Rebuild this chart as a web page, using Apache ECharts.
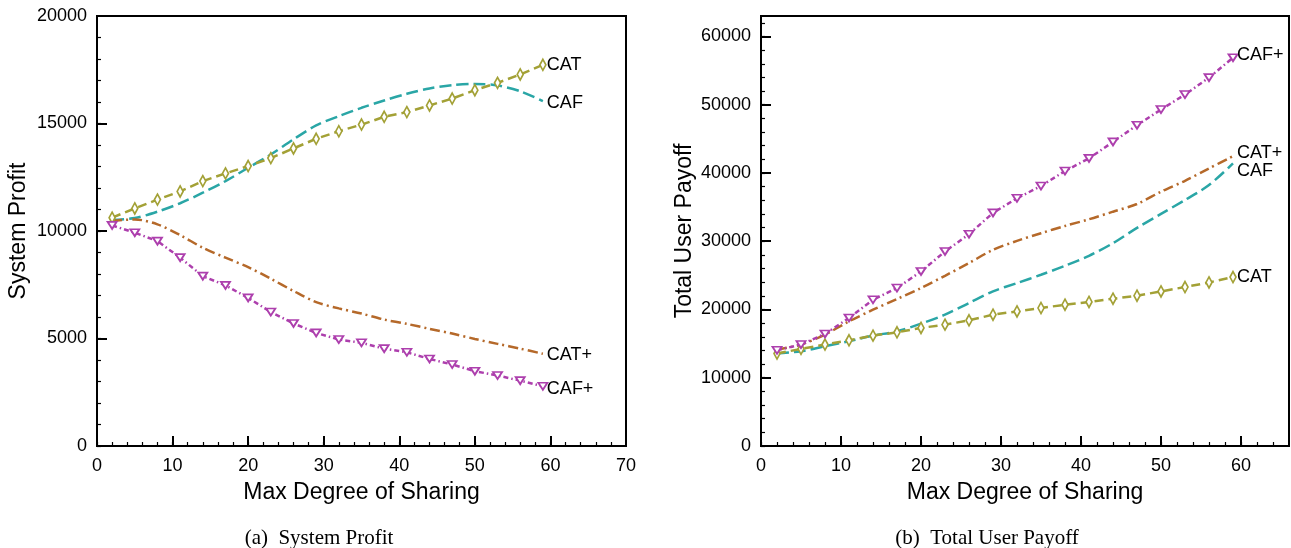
<!DOCTYPE html>
<html><head><meta charset="utf-8">
<script src="https://cdn.jsdelivr.net/npm/echarts@6/dist/echarts.min.js"></script>
<style>html,body{margin:0;padding:0;background:#fff}#c{width:1291px;height:548px}</style>
</head><body><div id="c"></div>
<script>
// ---- data ----
const xVals = [2,5,8,11,14,17,20,23,26,29,32,35,38,41,44,47,50,53,56,59];

const profitCAT     = [10620,11050,11460,11840,12320,12680,13020,13390,13840,14290,14640,14950,15310,15530,15840,16160,16550,16890,17280,17730];
const profitCAF     = [10510,10600,10900,11290,11780,12320,12940,13560,14260,14910,15340,15730,16070,16380,16630,16780,16840,16770,16500,16040];
const profitCATplus = [10470,10540,10310,9810,9220,8760,8320,7780,7210,6690,6400,6160,5880,5680,5450,5230,4980,4750,4530,4290];
const profitCAFplus = [10260,9920,9530,8760,7900,7470,6890,6230,5700,5260,4950,4800,4530,4360,4050,3790,3480,3280,3040,2780];

const payoffCAT     = [13540,14230,14860,15490,16170,16660,17300,17780,18410,19240,19720,20220,20700,21100,21580,22020,22650,23290,23960,24750];
const payoffCAF     = [13540,13880,14610,15340,16170,16800,17930,19240,20950,22650,23870,25090,26400,27860,29720,31950,34000,36040,38230,41400];
const payoffCATplus = [14130,14860,16320,18260,19970,21540,23140,24940,26800,28740,30050,31180,32240,33220,34330,35460,37260,38860,40670,42470];
const payoffCAFplus = [14030,14860,16420,18760,21430,23140,25570,28500,31030,34150,36290,38090,40280,42140,44560,47000,49290,51490,53970,56890];

// ---- ticks ----
const leftXTicks  = [0,10,20,30,40,50,60,70];
const leftYTicks  = [0,5000,10000,15000,20000];
const rightXTicks = [0,10,20,30,40,50,60];
const rightYTicks = [0,10000,20000,30000,40000,50000,60000];
const leftXMax = 70, leftYMax = 20000, rightXMax = 66, rightYMax = 63000;
const leftXMinorStep = 2, leftYMinorStep = 1000, rightXMinorStep = 2, rightYMinorStep = 2000;

function steps(max, step){ const a=[]; for(let v=0; v<max; v+=step) a.push(v); return a; }

const FONT = 'Liberation Sans, Arial, Helvetica, sans-serif';
const C_CAT = '#a3a136', C_CAF = '#2aa6a6', C_CATP = '#b5692a', C_CAFP = '#ad3fad';

function pairs(ys){ return xVals.map((x,i)=>[x, ys[i]]); }

function majorAxis(dim, grid, max, ticks, name, nameGap){
  return {
    type:'value', gridIndex:grid, min:0, max:max,
    position: dim==='x' ? 'bottom' : 'left',
    axisLine:{show:true, onZero:false, lineStyle:{color:'#000', width:2}},
    axisTick:{show:true, inside:true, length:10, customValues:ticks, lineStyle:{color:'#000', width:2}},
    axisLabel:{show:true, customValues:ticks, margin: dim==='x'?11:10, fontSize:18, color:'#000', fontFamily:FONT,
               formatter:(v)=>String(v)},
    splitLine:{show:false},
    name:name, nameLocation:'middle', nameGap:nameGap,
    nameTextStyle:{fontSize:23, color:'#000', fontFamily:FONT}
  };
}
function minorAxis(dim, grid, max, ticks){
  return {
    type:'value', gridIndex:grid, min:0, max:max,
    position: dim==='x' ? 'bottom' : 'left',
    axisLine:{show:false},
    axisTick:{show:true, inside:true, length:4, customValues:ticks, lineStyle:{color:'#000', width:1.2}},
    axisLabel:{show:false}, splitLine:{show:false}
  };
}

function seriesSet(xi, yi, cat, caf, catp, cafp, offs){
  const lbl = (off)=>({show:true, formatter:'{a}', fontSize:18, color:'#000', fontFamily:FONT, distance:4, offset:off});
  return [
    {name:'CAT', type:'line', xAxisIndex:xi, yAxisIndex:yi, data:pairs(cat),
     symbol:'diamond', symbolSize:[6,11], showAllSymbol:true,
     itemStyle:{color:'#fff', borderColor:C_CAT, borderWidth:1.8},
     lineStyle:{color:C_CAT, width:2.5, type:[9,5]}, endLabel:lbl(offs[0]), z:4},
    {name:'CAF', type:'line', xAxisIndex:xi, yAxisIndex:yi, data:pairs(caf),
     symbol:'none', smooth:0.3,
     lineStyle:{color:C_CAF, width:2.5, type:[12,5]}, endLabel:lbl(offs[1]), z:3},
    {name:'CAT+', type:'line', xAxisIndex:xi, yAxisIndex:yi, data:pairs(catp),
     symbol:'none', smooth:0.3,
     lineStyle:{color:C_CATP, width:2.5, type:[10,4,2,4]}, endLabel:lbl(offs[2]), z:3},
    {name:'CAF+', type:'line', xAxisIndex:xi, yAxisIndex:yi, data:pairs(cafp),
     symbol:'triangle', symbolRotate:180, symbolSize:[9,7], showAllSymbol:true,
     itemStyle:{color:'#fff', borderColor:C_CAFP, borderWidth:1.8},
     lineStyle:{color:C_CAFP, width:2.5, type:[5,3,1.5,3]}, endLabel:lbl(offs[3]), z:4}
  ];
}

const chart = echarts.init(document.getElementById('c'), null, {renderer:'canvas'});
chart.setOption({
  animation:false,
  backgroundColor:'#fff',
  grid:[
    {left:97, top:16, width:529, height:430, show:true, borderColor:'#000', borderWidth:2, containLabel:false},
    {left:761, top:16, width:528, height:430, show:true, borderColor:'#000', borderWidth:2, containLabel:false}
  ],
  xAxis:[
    majorAxis('x',0,leftXMax,leftXTicks,'Max Degree of Sharing',35),
    minorAxis('x',0,leftXMax,steps(leftXMax,leftXMinorStep)),
    majorAxis('x',1,rightXMax,rightXTicks,'Max Degree of Sharing',35),
    minorAxis('x',1,rightXMax,steps(rightXMax,rightXMinorStep))
  ],
  yAxis:[
    majorAxis('y',0,leftYMax,leftYTicks,'System Profit',67),
    minorAxis('y',0,leftYMax,steps(leftYMax,leftYMinorStep)),
    majorAxis('y',1,rightYMax,rightYTicks,'Total User Payoff',65),
    minorAxis('y',1,rightYMax,steps(rightYMax,rightYMinorStep))
  ],
  series:[
    ...seriesSet(0,0,profitCAT,profitCAF,profitCATplus,profitCAFplus,[[0,0],[0,2],[0,1],[0,3]]),
    ...seriesSet(2,2,payoffCAT,payoffCAF,payoffCATplus,payoffCAFplus,[[0,0],[0,8],[0,-3],[0,-3]])
  ],
  graphic:[
    {type:'text', x:319, y:538, style:{text:'(a)  System Profit', font:'21px "Liberation Serif", "Times New Roman", serif', fill:'#000', textAlign:'center', textVerticalAlign:'middle'}},
    {type:'text', x:987, y:538, style:{text:'(b)  Total User Payoff', font:'21px "Liberation Serif", "Times New Roman", serif', fill:'#000', textAlign:'center', textVerticalAlign:'middle'}}
  ]
});
</script></body></html>
